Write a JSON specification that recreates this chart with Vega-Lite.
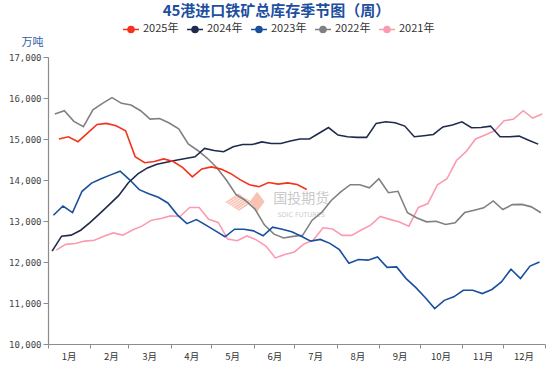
{
  "$schema": "https://vega.github.io/schema/vega-lite/v6.json",
  "width": 497,
  "height": 287,
  "autosize": {"type": "none"},
  "padding": {"left": 48, "top": 57, "right": 9, "bottom": 22},
  "background": "white",
  "config": {"view": {"stroke": null}},
  "title": {
    "text": "45港进口铁矿总库存季节图（周）",
    "font": "Noto Sans CJK SC",
    "fontSize": 15,
    "fontWeight": "bold",
    "color": "#1d4f9f",
    "anchor": "middle",
    "frame": "group",
    "dx": -20,
    "offset": 1
  },
  "datasets": {
    "wm": [{"k": 1}],
    "inv": [
      {"s":"2021年","d":"2001-01-07","v":12290},{"s":"2021年","d":"2001-01-14","v":12430},{"s":"2021年","d":"2001-01-21","v":12450},{"s":"2021年","d":"2001-01-28","v":12510},
      {"s":"2021年","d":"2001-02-04","v":12530},{"s":"2021年","d":"2001-02-11","v":12630},{"s":"2021年","d":"2001-02-18","v":12710},{"s":"2021年","d":"2001-02-25","v":12655},
      {"s":"2021年","d":"2001-03-04","v":12780},{"s":"2021年","d":"2001-03-11","v":12875},{"s":"2021年","d":"2001-03-18","v":13020},{"s":"2021年","d":"2001-03-25","v":13060},
      {"s":"2021年","d":"2001-04-01","v":13125},{"s":"2021年","d":"2001-04-08","v":13110},{"s":"2021年","d":"2001-04-15","v":13330},{"s":"2021年","d":"2001-04-22","v":13330},
      {"s":"2021年","d":"2001-04-29","v":13040},{"s":"2021年","d":"2001-05-06","v":12965},{"s":"2021年","d":"2001-05-13","v":12560},{"s":"2021年","d":"2001-05-20","v":12520},
      {"s":"2021年","d":"2001-05-27","v":12635},{"s":"2021年","d":"2001-06-03","v":12540},{"s":"2021年","d":"2001-06-10","v":12390},{"s":"2021年","d":"2001-06-17","v":12100},
      {"s":"2021年","d":"2001-06-24","v":12185},{"s":"2021年","d":"2001-07-01","v":12245},{"s":"2021年","d":"2001-07-08","v":12440},{"s":"2021年","d":"2001-07-15","v":12540},
      {"s":"2021年","d":"2001-07-22","v":12835},{"s":"2021年","d":"2001-07-29","v":12805},{"s":"2021年","d":"2001-08-05","v":12650},{"s":"2021年","d":"2001-08-12","v":12650},
      {"s":"2021年","d":"2001-08-19","v":12780},{"s":"2021年","d":"2001-08-26","v":12900},{"s":"2021年","d":"2001-09-02","v":13110},{"s":"2021年","d":"2001-09-09","v":13040},
      {"s":"2021年","d":"2001-09-16","v":12975},{"s":"2021年","d":"2001-09-23","v":12875},{"s":"2021年","d":"2001-09-30","v":13330},{"s":"2021年","d":"2001-10-07","v":13425},
      {"s":"2021年","d":"2001-10-14","v":13885},{"s":"2021年","d":"2001-10-21","v":14030},{"s":"2021年","d":"2001-10-28","v":14475},{"s":"2021年","d":"2001-11-04","v":14690},
      {"s":"2021年","d":"2001-11-11","v":15000},{"s":"2021年","d":"2001-11-18","v":15100},{"s":"2021年","d":"2001-11-25","v":15200},{"s":"2021年","d":"2001-12-02","v":15445},
      {"s":"2021年","d":"2001-12-09","v":15485},{"s":"2021年","d":"2001-12-16","v":15690},{"s":"2021年","d":"2001-12-23","v":15510},{"s":"2021年","d":"2001-12-30","v":15610},

      {"s":"2022年","d":"2001-01-06","v":15610},{"s":"2022年","d":"2001-01-13","v":15690},{"s":"2022年","d":"2001-01-20","v":15430},{"s":"2022年","d":"2001-01-27","v":15300},
      {"s":"2022年","d":"2001-02-03","v":15710},{"s":"2022年","d":"2001-02-10","v":15870},{"s":"2022年","d":"2001-02-17","v":16010},{"s":"2022年","d":"2001-02-24","v":15870},
      {"s":"2022年","d":"2001-03-03","v":15830},{"s":"2022年","d":"2001-03-10","v":15690},{"s":"2022年","d":"2001-03-17","v":15485},{"s":"2022年","d":"2001-03-24","v":15500},
      {"s":"2022年","d":"2001-03-31","v":15390},{"s":"2022年","d":"2001-04-07","v":15250},{"s":"2022年","d":"2001-04-14","v":14880},{"s":"2022年","d":"2001-04-21","v":14720},
      {"s":"2022年","d":"2001-04-28","v":14530},{"s":"2022年","d":"2001-05-05","v":14300},{"s":"2022年","d":"2001-05-12","v":14000},{"s":"2022年","d":"2001-05-19","v":13650},
      {"s":"2022年","d":"2001-05-26","v":13500},{"s":"2022年","d":"2001-06-02","v":13290},{"s":"2022年","d":"2001-06-09","v":12900},{"s":"2022年","d":"2001-06-16","v":12680},
      {"s":"2022年","d":"2001-06-23","v":12585},{"s":"2022年","d":"2001-06-30","v":12625},{"s":"2022年","d":"2001-07-07","v":12650},{"s":"2022年","d":"2001-07-14","v":13020},
      {"s":"2022年","d":"2001-07-21","v":13210},{"s":"2022年","d":"2001-07-28","v":13500},{"s":"2022年","d":"2001-08-04","v":13710},{"s":"2022年","d":"2001-08-11","v":13885},
      {"s":"2022年","d":"2001-08-18","v":13885},{"s":"2022年","d":"2001-08-25","v":13810},{"s":"2022年","d":"2001-09-01","v":14030},{"s":"2022年","d":"2001-09-08","v":13690},
      {"s":"2022年","d":"2001-09-15","v":13725},{"s":"2022年","d":"2001-09-22","v":13200},{"s":"2022年","d":"2001-09-29","v":13075},{"s":"2022年","d":"2001-10-06","v":12980},
      {"s":"2022年","d":"2001-10-13","v":12995},{"s":"2022年","d":"2001-10-20","v":12915},{"s":"2022年","d":"2001-10-27","v":12955},{"s":"2022年","d":"2001-11-03","v":13205},
      {"s":"2022年","d":"2001-11-10","v":13260},{"s":"2022年","d":"2001-11-17","v":13320},{"s":"2022年","d":"2001-11-24","v":13490},{"s":"2022年","d":"2001-12-01","v":13280},
      {"s":"2022年","d":"2001-12-08","v":13400},{"s":"2022年","d":"2001-12-15","v":13405},{"s":"2022年","d":"2001-12-22","v":13345},{"s":"2022年","d":"2001-12-29","v":13200},

      {"s":"2023年","d":"2001-01-05","v":13140},{"s":"2023年","d":"2001-01-12","v":13365},{"s":"2023年","d":"2001-01-19","v":13205},{"s":"2023年","d":"2001-01-26","v":13725},
      {"s":"2023年","d":"2001-02-02","v":13925},{"s":"2023年","d":"2001-02-09","v":14030},{"s":"2023年","d":"2001-02-16","v":14125},{"s":"2023年","d":"2001-02-23","v":14215},
      {"s":"2023年","d":"2001-03-02","v":14005},{"s":"2023年","d":"2001-03-09","v":13765},{"s":"2023年","d":"2001-03-16","v":13665},{"s":"2023年","d":"2001-03-23","v":13580},
      {"s":"2023年","d":"2001-03-30","v":13440},{"s":"2023年","d":"2001-04-06","v":13150},{"s":"2023年","d":"2001-04-13","v":12935},{"s":"2023年","d":"2001-04-20","v":13035},
      {"s":"2023年","d":"2001-04-27","v":12900},{"s":"2023年","d":"2001-05-04","v":12760},{"s":"2023年","d":"2001-05-11","v":12615},{"s":"2023年","d":"2001-05-18","v":12800},
      {"s":"2023年","d":"2001-05-25","v":12800},{"s":"2023年","d":"2001-06-01","v":12760},{"s":"2023年","d":"2001-06-08","v":12640},{"s":"2023年","d":"2001-06-15","v":12850},
      {"s":"2023年","d":"2001-06-22","v":12800},{"s":"2023年","d":"2001-06-29","v":12740},{"s":"2023年","d":"2001-07-06","v":12630},{"s":"2023年","d":"2001-07-13","v":12510},
      {"s":"2023年","d":"2001-07-20","v":12550},{"s":"2023年","d":"2001-07-27","v":12455},{"s":"2023年","d":"2001-08-03","v":12300},{"s":"2023年","d":"2001-08-10","v":11970},
      {"s":"2023年","d":"2001-08-17","v":12060},{"s":"2023年","d":"2001-08-24","v":12045},{"s":"2023年","d":"2001-08-31","v":12125},{"s":"2023年","d":"2001-09-07","v":11870},
      {"s":"2023年","d":"2001-09-14","v":11880},{"s":"2023年","d":"2001-09-21","v":11595},{"s":"2023年","d":"2001-09-28","v":11380},{"s":"2023年","d":"2001-10-05","v":11135},
      {"s":"2023年","d":"2001-10-12","v":10865},{"s":"2023年","d":"2001-10-19","v":11065},{"s":"2023年","d":"2001-10-26","v":11150},{"s":"2023年","d":"2001-11-02","v":11310},
      {"s":"2023年","d":"2001-11-09","v":11310},{"s":"2023年","d":"2001-11-16","v":11230},{"s":"2023年","d":"2001-11-23","v":11330},{"s":"2023年","d":"2001-11-30","v":11515},
      {"s":"2023年","d":"2001-12-07","v":11825},{"s":"2023年","d":"2001-12-14","v":11595},{"s":"2023年","d":"2001-12-21","v":11900},{"s":"2023年","d":"2001-12-28","v":12000},

      {"s":"2024年","d":"2001-01-04","v":12265},{"s":"2024年","d":"2001-01-11","v":12630},{"s":"2024年","d":"2001-01-18","v":12655},{"s":"2024年","d":"2001-01-25","v":12775},
      {"s":"2024年","d":"2001-02-01","v":12965},{"s":"2024年","d":"2001-02-08","v":13180},{"s":"2024年","d":"2001-02-15","v":13400},{"s":"2024年","d":"2001-02-22","v":13625},
      {"s":"2024年","d":"2001-03-01","v":13935},{"s":"2024年","d":"2001-03-08","v":14150},{"s":"2024年","d":"2001-03-15","v":14295},{"s":"2024年","d":"2001-03-22","v":14385},
      {"s":"2024年","d":"2001-03-29","v":14435},{"s":"2024年","d":"2001-04-05","v":14480},{"s":"2024年","d":"2001-04-12","v":14525},{"s":"2024年","d":"2001-04-19","v":14565},
      {"s":"2024年","d":"2001-04-26","v":14770},{"s":"2024年","d":"2001-05-03","v":14720},{"s":"2024年","d":"2001-05-10","v":14690},{"s":"2024年","d":"2001-05-17","v":14810},
      {"s":"2024年","d":"2001-05-24","v":14865},{"s":"2024年","d":"2001-05-31","v":14865},{"s":"2024年","d":"2001-06-07","v":14930},{"s":"2024年","d":"2001-06-14","v":14890},
      {"s":"2024年","d":"2001-06-21","v":14890},{"s":"2024年","d":"2001-06-28","v":14950},{"s":"2024年","d":"2001-07-05","v":15000},{"s":"2024年","d":"2001-07-12","v":15000},
      {"s":"2024年","d":"2001-07-19","v":15140},{"s":"2024年","d":"2001-07-26","v":15280},{"s":"2024年","d":"2001-08-02","v":15095},{"s":"2024年","d":"2001-08-09","v":15055},
      {"s":"2024年","d":"2001-08-16","v":15040},{"s":"2024年","d":"2001-08-23","v":15040},{"s":"2024年","d":"2001-08-30","v":15380},{"s":"2024年","d":"2001-09-06","v":15420},
      {"s":"2024年","d":"2001-09-13","v":15395},{"s":"2024年","d":"2001-09-20","v":15315},{"s":"2024年","d":"2001-09-27","v":15055},{"s":"2024年","d":"2001-10-04","v":15080},
      {"s":"2024年","d":"2001-10-11","v":15110},{"s":"2024年","d":"2001-10-18","v":15295},{"s":"2024年","d":"2001-10-25","v":15340},{"s":"2024年","d":"2001-11-01","v":15420},
      {"s":"2024年","d":"2001-11-08","v":15275},{"s":"2024年","d":"2001-11-15","v":15280},{"s":"2024年","d":"2001-11-22","v":15315},{"s":"2024年","d":"2001-11-29","v":15055},
      {"s":"2024年","d":"2001-12-06","v":15055},{"s":"2024年","d":"2001-12-13","v":15070},{"s":"2024年","d":"2001-12-20","v":14970},{"s":"2024年","d":"2001-12-27","v":14875},

      {"s":"2025年","d":"2001-01-09","v":15000},{"s":"2025年","d":"2001-01-16","v":15055},{"s":"2025年","d":"2001-01-23","v":14935},{"s":"2025年","d":"2001-01-30","v":15145},
      {"s":"2025年","d":"2001-02-06","v":15355},{"s":"2025年","d":"2001-02-13","v":15380},{"s":"2025年","d":"2001-02-20","v":15325},{"s":"2025年","d":"2001-02-27","v":15200},
      {"s":"2025年","d":"2001-03-06","v":14570},{"s":"2025年","d":"2001-03-13","v":14420},{"s":"2025年","d":"2001-03-20","v":14450},{"s":"2025年","d":"2001-03-27","v":14515},
      {"s":"2025年","d":"2001-04-03","v":14450},{"s":"2025年","d":"2001-04-10","v":14300},{"s":"2025年","d":"2001-04-17","v":14075},{"s":"2025年","d":"2001-04-24","v":14270},
      {"s":"2025年","d":"2001-05-01","v":14320},{"s":"2025年","d":"2001-05-08","v":14265},{"s":"2025年","d":"2001-05-15","v":14160},{"s":"2025年","d":"2001-05-22","v":14010},
      {"s":"2025年","d":"2001-05-29","v":13885},{"s":"2025年","d":"2001-06-05","v":13835},{"s":"2025年","d":"2001-06-12","v":13940},{"s":"2025年","d":"2001-06-19","v":13900},
      {"s":"2025年","d":"2001-06-26","v":13930},{"s":"2025年","d":"2001-07-03","v":13890},{"s":"2025年","d":"2001-07-10","v":13770}
    ]
  },
  "layer": [
    {
      "data": {"name": "wm"},
      "mark": {"type": "point", "filled": true, "fill": "#f9c3b3", "stroke": "#f9c3b3", "strokeWidth": 1.6, "opacity": 1, "size": 1521,
        "shape": "M0.333,0L0.667,-0.44L1,0L0.667,0.44Z M-0.931,0.044L-0.241,-0.396 M-0.828,0.11L-0.138,-0.33 M-0.724,0.176L-0.034,-0.264 M-0.621,0.242L0.069,-0.198 M-0.517,0.308L0.173,-0.132 M-0.414,0.374L0.276,-0.066 M-0.31,0.44L0.38,0"},
      "encoding": {
        "x": {"datum": {"year": 2001, "month": 5, "date": 25, "utc": true}, "type": "temporal"},
        "y": {"datum": 13470, "type": "quantitative"}
      }
    },
    {
      "data": {"name": "wm"},
      "mark": {"type": "text", "text": "国投期货", "font": "Noto Sans CJK SC", "fontSize": 14, "fill": "#c9c9c9", "align": "center", "baseline": "middle"},
      "encoding": {
        "x": {"datum": {"year": 2001, "month": 7, "date": 6, "utc": true}, "type": "temporal"},
        "y": {"datum": 13540, "type": "quantitative"}
      }
    },
    {
      "data": {"name": "wm"},
      "mark": {"type": "text", "text": "SDIC FUTURES", "font": "DejaVu Sans", "fontSize": 6.5, "fill": "#cccccc", "align": "center", "baseline": "middle"},
      "encoding": {
        "x": {"datum": {"year": 2001, "month": 7, "date": 6, "utc": true}, "type": "temporal"},
        "y": {"datum": 13150, "type": "quantitative"}
      }
    },
    {
      "data": {"name": "inv"},
      "mark": {"type": "line", "strokeWidth": 1.6, "interpolate": "linear"},
      "encoding": {
        "x": {
          "field": "d", "type": "temporal",
          "scale": {"type": "utc", "domain": [{"year": 2001, "month": 1, "date": 1, "utc": true}, {"year": 2002, "month": 1, "date": 1, "utc": true}]},
          "axis": {
            "title": null, "grid": false,
            "values": [
              {"year": 2001, "month": 1, "date": 1, "utc": true},{"year": 2001, "month": 2, "date": 1, "utc": true},{"year": 2001, "month": 3, "date": 1, "utc": true},
              {"year": 2001, "month": 4, "date": 1, "utc": true},{"year": 2001, "month": 5, "date": 1, "utc": true},{"year": 2001, "month": 6, "date": 1, "utc": true},
              {"year": 2001, "month": 7, "date": 1, "utc": true},{"year": 2001, "month": 8, "date": 1, "utc": true},{"year": 2001, "month": 9, "date": 1, "utc": true},
              {"year": 2001, "month": 10, "date": 1, "utc": true},{"year": 2001, "month": 11, "date": 1, "utc": true},{"year": 2001, "month": 12, "date": 1, "utc": true},
              {"year": 2002, "month": 1, "date": 1, "utc": true}
            ],
            "labelExpr": "utcyear(datum.value) > 2001 ? '' : (utcmonth(datum.value) + 1) + '月'",
            "labelOffset": 20.7, "labelFlush": false, "labelOverlap": false,
            "labelFont": "Noto Sans CJK SC", "labelFontSize": 9.5, "labelColor": "#333333",
            "labelPadding": 3, "tickSize": 4, "tickColor": "#8c8c8c", "domainColor": "#8c8c8c", "domainWidth": 1.2
          }
        },
        "y": {
          "field": "v", "type": "quantitative",
          "scale": {"domain": [10000, 17000], "nice": false, "zero": false},
          "axis": {
            "title": "万吨", "titleAngle": 0, "titleX": -16, "titleY": -15, "titleAlign": "center", "titleBaseline": "middle",
            "titleColor": "#2f5ea8", "titleFont": "Noto Sans CJK SC", "titleFontSize": 11, "titleFontWeight": "normal",
            "grid": false, "values": [10000, 11000, 12000, 13000, 14000, 15000, 16000, 17000], "format": ",.0f",
            "labelFont": "DejaVu Sans Mono", "labelFontSize": 9, "labelColor": "#444444", "labelPadding": 2,
            "tickSize": 5, "tickColor": "#8c8c8c", "domainColor": "#8c8c8c", "domainWidth": 1.2
          }
        },
        "color": {
          "field": "s", "type": "nominal",
          "scale": {"domain": ["2025年", "2024年", "2023年", "2022年", "2021年"], "range": ["#f5331c", "#202a4c", "#1a4f9e", "#808080", "#fb9bb0"]},
          "legend": {
            "title": null, "orient": "none", "direction": "horizontal", "columns": 5, "legendX": 74, "legendY": -37,
            "symbolType": "M-1,0H-0.38M0.38,0H1M-0.38,0A0.38,0.38 0 1,1 0.38,0A0.38,0.38 0 1,1 -0.38,0Z",
            "symbolSize": 256, "symbolStrokeWidth": 1.5,
            "labelFont": "Noto Sans CJK SC", "labelFontSize": 11, "labelColor": "#333333", "labelOffset": 3, "columnPadding": 5,
            "encode": {"symbols": {"update": {"fill": {"scale": "color", "field": "value"}, "stroke": {"scale": "color", "field": "value"}}}}
          }
        },
        "order": {"field": "d", "type": "temporal"}
      }
    }
  ]
}
